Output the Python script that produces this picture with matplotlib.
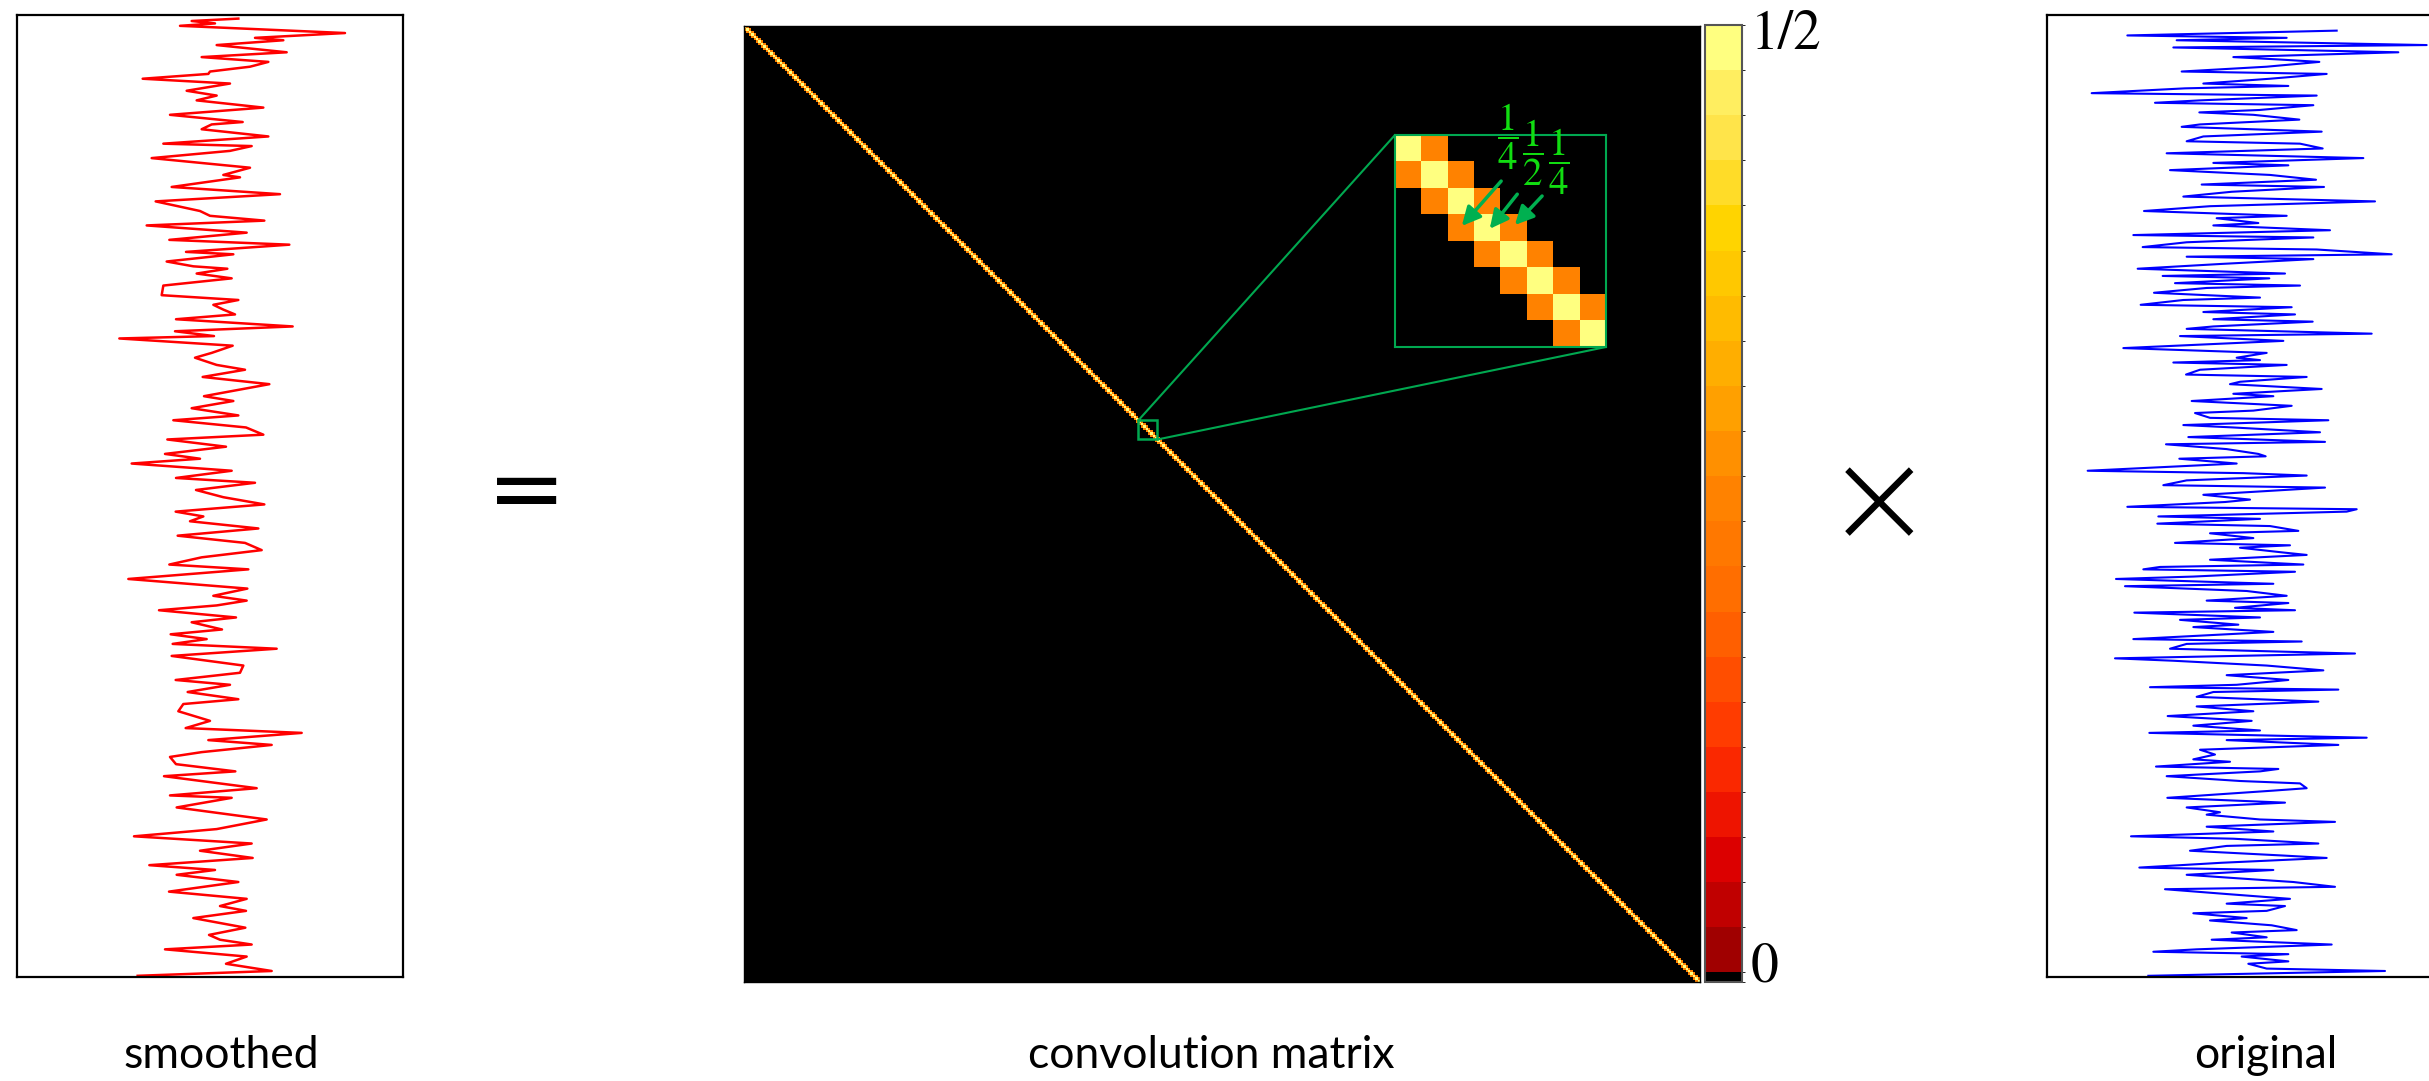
import numpy as np
import matplotlib
matplotlib.use("Agg")
import matplotlib.pyplot as plt
from matplotlib.colors import ListedColormap, BoundaryNorm
from matplotlib.patches import Rectangle, ConnectionPatch, FancyArrowPatch
from matplotlib import cm

plt.rcParams['mathtext.fontset'] = 'stix'

# smoothing kernel on the three central diagonals
kernel = [0.25, 0.5, 0.25]
n_samples = 400

# smoothed signal (sample index, amplitude)
smooth_idx = [1, 2, 3, 4, 7, 9, 10, 12, 15, 17,
              19, 21, 23, 24, 26, 28, 31, 33, 35, 38,
              41, 44, 45, 47, 50, 53, 54, 56, 59, 63,
              66, 67, 71, 74, 77, 81, 83, 85, 87, 90,
              93, 95, 98, 99, 102, 104, 105, 107, 109, 112,
              116, 118, 120, 122, 124, 126, 129, 131, 133, 134,
              137, 140, 142, 145, 147, 150, 153, 158, 160, 163,
              166, 168, 171, 174, 176, 179, 182, 184, 186, 189,
              192, 194, 197, 200, 203, 206, 208, 210, 213, 216,
              219, 222, 225, 228, 230, 234, 238, 241, 243, 245,
              247, 250, 252, 255, 257, 259, 261, 263, 266, 270,
              273, 276, 278, 281, 284, 286, 289, 293, 296, 298,
              301, 303, 306, 308, 311, 314, 316, 321, 324, 325,
              329, 334, 338, 341, 344, 347, 350, 353, 355, 357,
              360, 364, 367, 370, 372, 375, 379, 382, 384, 386,
              388, 391, 394, 397, 399]
smooth_val = [0.85, -0.55, 0.15, -0.90, 4.05, 1.35, 2.20, 0.20, 2.30, -0.25,
              1.75, 1.20, 0.00, -0.05, -2.02, 0.60, -0.70, 0.20, -0.40, 1.60,
              -1.20, 0.98, 0.05, -0.25, 1.75, -1.40, 1.25, 0.60, -1.75, 1.20,
              0.40, 0.90, -1.15, 2.10, -1.63, -0.30, 0.00, 1.63, -1.90, 1.10,
              -1.22, 2.38, -0.72, 0.70, -1.30, -0.50, 0.52, -0.40, 0.65, -1.40,
              -1.45, 0.85, 0.10, 0.40, 0.75, -1.02, 2.48, -1.05, 0.12, -2.72,
              0.68, 0.05, -0.45, 0.20, 1.05, -0.22, 1.78, -0.18, 0.70, -0.55,
              0.85, -1.10, 1.08, 1.60, -1.28, 0.48, -1.35, -0.30, -2.35, 0.65,
              -1.02, 1.35, -0.42, 0.40, 1.63, -1.03, -0.20, -0.60, 1.45, -0.97,
              1.05, 1.55, -0.25, -1.22, 1.15, -2.45, 1.12, 0.10, 1.10, 0.20,
              -1.53, 0.78, -0.55, 0.36, -1.18, -0.10, -1.12, 2.00, -1.15, 1.00,
              0.90, -1.03, 0.60, -0.67, 0.85, -0.80, -0.95, 0.00, -0.73, 2.75,
              -0.05, 1.85, -0.25, -1.20, -1.02, 0.76, -1.38, 1.40, -1.20, 0.65,
              -1.00, 1.70, 0.20, -2.28, 1.25, -0.30, 1.28, -1.82, 0.15, -1.00,
              0.85, -1.23, 1.10, 0.30, 1.08, -0.50, 1.06, -0.03, 0.30, 1.25,
              -1.35, 1.10, 0.48, 1.85, -2.17]

# original signal (sample index, amplitude)
orig_idx = [6, 8, 9, 10, 12, 13, 15, 17, 18, 19,
            21, 23, 24, 26, 28, 29, 30, 32, 33, 35,
            36, 37, 39, 40, 41, 43, 45, 46, 48, 50,
            52, 53, 55, 57, 59, 61, 62, 64, 66, 68,
            70, 71, 73, 75, 77, 79, 81, 83, 84, 86,
            87, 89, 91, 92, 94, 96, 97, 99, 100, 101,
            103, 105, 107, 108, 109, 111, 112, 113, 115, 117,
            118, 120, 121, 123, 124, 126, 127, 129, 130, 132,
            133, 135, 138, 140, 142, 143, 144, 145, 147, 149,
            150, 152, 153, 155, 157, 158, 160, 162, 164, 165,
            167, 168, 170, 171, 173, 175, 177, 178, 180, 182,
            183, 184, 186, 189, 190, 191, 193, 195, 196, 199,
            201, 202, 204, 205, 206, 208, 209, 211, 212, 214,
            215, 217, 219, 220, 221, 223, 224, 226, 228, 229,
            230, 231, 233, 234, 236, 237, 239, 241, 243, 244,
            246, 247, 248, 250, 251, 253, 254, 256, 259, 260,
            261, 263, 265, 267, 268, 270, 272, 274, 276, 278,
            279, 280, 281, 283, 285, 287, 289, 291, 293, 295,
            297, 298, 300, 301, 303, 305, 307, 309, 310, 312,
            313, 314, 316, 318, 319, 321, 322, 325, 327, 329,
            331, 332, 334, 335, 337, 339, 341, 342, 344, 345,
            347, 349, 350, 352, 354, 355, 357, 359, 360, 362,
            363, 365, 367, 369, 370, 372, 373, 375, 376, 378,
            380, 381, 383, 384, 386, 388, 389, 390, 391, 393,
            394, 396, 397, 399]
orig_val = [2.90, -3.38, 1.40, -1.90, 5.60, -2.00, 4.75, -0.20, 1.18, 2.38,
            0.80, -1.75, 2.60, 0.90, -1.10, 1.45, -1.65, -4.45, 2.30, -1.20,
            -2.55, 2.20, 0.58, -1.22, 0.40, 1.78, -1.20, -1.75, 2.45, -1.10,
            -1.60, 1.80, 2.48, -2.20, 3.70, -0.80, 1.45, -2.10, 0.90, 2.28,
            -1.15, 2.52, -0.25, -1.70, 4.05, -0.90, -2.88, 1.40, -0.70, 0.55,
            -0.80, 2.70, -3.20, 2.20, -1.60, -2.92, 2.30, 4.55, -1.60, 2.20,
            -0.55, -3.07, 1.35, -2.32, 0.88, -1.95, 1.80, -1.00, -2.58, 0.60,
            -1.70, -2.98, 1.55, -1.10, 1.65, -0.80, 2.18, -0.80, -1.60, 3.95,
            -1.80, 1.30, -3.50, 0.80, -0.10, 0.60, -2.00, 1.40, -1.20, -1.62,
            2.00, 0.00, -0.30, 2.45, -0.20, 1.00, -1.45, 1.55, 0.40, -1.35,
            -0.90, 2.65, -1.70, -0.20, 2.40, -1.55, 2.55, -2.22, -0.40, 0.55,
            0.77, -1.82, -0.10, -4.57, 0.10, 2.00, -1.60, -2.30, 2.55, -1.10,
            0.30, -0.45, -3.38, 3.50, 3.20, -2.45, 0.60, -2.48, 0.90, 1.75,
            -0.90, 0.40, -1.95, 1.50, 0.00, 1.30, 2.00, -0.90, 1.90, -2.40,
            -2.90, 1.65, -1.40, -3.72, 1.00, -3.45, 0.20, 1.40, -1.00, 1.45,
            -0.15, 1.65, -3.17, 0.60, -1.80, -0.05, -1.40, 1.00, -3.20, 1.85,
            -1.60, -2.10, 3.45, -3.75, -2.00, 0.80, 2.50, -0.40, 1.45, -0.10,
            -2.70, 2.95, -0.80, -1.30, 2.35, -1.30, 0.40, -2.17, 0.35, -1.40,
            0.60, -2.72, 3.80, -0.40, 2.95, -1.20, -0.75, -1.40, -0.30, -2.52,
            1.15, 0.60, -2.20, 0.00, 1.80, 2.00, 1.00, -2.18, 1.35, -1.60,
            -0.60, -1.00, 0.60, 2.85, -1.00, 1.00, -3.27, -0.20, 2.35, -0.40,
            -1.50, 1.30, 2.60, -0.55, -3.02, 1.00, -1.60, 0.50, 1.60, 2.85,
            -2.25, -0.40, 1.50, -0.40, 1.35, 0.80, -1.40, 0.20, -0.90, 0.95,
            1.70, -0.25, 0.80, -0.85, 2.75, -1.30, -2.60, 1.45, 0.05, 1.45,
            0.25, 0.80, 4.35, -2.75]

# zoomed block on the diagonal
zoom_start = 165
zoom_size = 8

# colour levels, 0 up to 1/2
cbar_colors = ['#000000', '#a00000', '#c00000', '#dc0000', '#ee1400', '#fa2800',
               '#ff3c00', '#ff4e00', '#ff5f00', '#ff6e00', '#ff7800', '#ff8200',
               '#ff9000', '#ffa000', '#ffae00', '#ffbb00', '#ffc800', '#ffd400',
               '#ffdc28', '#ffe44a', '#ffee60', '#ffff80']
cbar_bounds = np.concatenate([[0.0], np.linspace(0.005, 0.5, len(cbar_colors))])

W, H = 2429, 1081
fig = plt.figure(figsize=(W / 100, H / 100), dpi=100)


def px_box(x0, y0, x1, y1):
    return [x0 / W, 1 - y1 / H, (x1 - x0) / W, (y1 - y0) / H]


def fp(x, y):
    return (x / W, 1 - y / H)


# convolution matrix
mat = np.zeros((n_samples, n_samples))
for k, w in zip([-1, 0, 1], kernel):
    mat += w * np.eye(n_samples, k=k)

cmap = ListedColormap(cbar_colors)
cmap.set_over(cbar_colors[-1])
norm = BoundaryNorm(cbar_bounds, len(cbar_colors))

green_line = '#00a850'
green_text = '#11dd11'
green_arrow = '#00b050'

# smoothed signal panel
ax_s = fig.add_axes(px_box(17, 15, 403, 977))
ax_s.plot(smooth_val, smooth_idx, color='red', lw=1.8)
ax_s.set_xlim(-5.79, 5.79)
ax_s.set_ylim(399.5, -0.5)

# original signal panel
ax_o = fig.add_axes(px_box(2047, 15, 2433, 977))
ax_o.plot(orig_val, orig_idx, color='blue', lw=1.5)
ax_o.set_xlim(-5.79, 5.79)
ax_o.set_ylim(399.5, -0.5)

for ax in (ax_s, ax_o):
    ax.set_xticks([])
    ax.set_yticks([])
    for sp in ax.spines.values():
        sp.set_linewidth(1.6)

# main matrix
ax_m = fig.add_axes(px_box(744, 26, 1700, 982))
ax_m.imshow(mat, cmap=cmap, norm=norm, aspect='auto', interpolation='nearest')
ax_m.set_xticks([])
ax_m.set_yticks([])
for sp in ax_m.spines.values():
    sp.set_linewidth(1.0)
ax_m.add_patch(Rectangle((zoom_start - 0.5, zoom_start - 0.5), zoom_size, zoom_size,
                         fill=False, ec=green_line, lw=1.8))

# colour bar
cax = fig.add_axes(px_box(1705, 25, 1742, 982))
cb = fig.colorbar(cm.ScalarMappable(norm=norm, cmap=cmap), cax=cax,
                  spacing='proportional')
cb.outline.set_edgecolor('#555555')
cb.outline.set_linewidth(1.5)
cax.set_yticks([])
fig.text(*fp(1751, 36), '1/2', family='STIXGeneral', fontsize=40, va='center', ha='left')
fig.text(*fp(1751, 968), '0', family='STIXGeneral', fontsize=40, va='center', ha='left')

# magnified block
ax_in = fig.add_axes(px_box(1395, 135, 1606, 347))
block = mat[zoom_start:zoom_start + zoom_size, zoom_start:zoom_start + zoom_size]
ax_in.imshow(block, cmap=cmap, norm=norm, aspect='auto', interpolation='nearest')
ax_in.set_xticks([])
ax_in.set_yticks([])
for sp in ax_in.spines.values():
    sp.set_edgecolor(green_line)
    sp.set_linewidth(1.5)

lo = zoom_start - 0.5
hi = zoom_start + zoom_size - 0.5
for a, b in [((lo, lo), (-0.5, -0.5)), ((hi, hi), (zoom_size - 0.5, zoom_size - 0.5))]:
    con = ConnectionPatch(xyA=a, coordsA=ax_m.transData, xyB=b, coordsB=ax_in.transData,
                          color=green_line, lw=1.5)
    fig.add_artist(con)

# weights of the kernel with arrows to their cells
frac_labels = [r'$\dfrac{1}{4}$', r'$\dfrac{1}{2}$', r'$\dfrac{1}{4}$']
frac_pos = [(1508, 137), (1533, 153), (1559, 162)]
arrow_tail = [(1503, 179), (1519, 192), (1544, 194)]
arrow_tip = [(1460, 228), (1488, 231), (1513, 227)]
for lab, pos, t0, t1 in zip(frac_labels, frac_pos, arrow_tail, arrow_tip):
    fig.text(*fp(*pos), lab, color=green_text, fontsize=28, ha='center', va='center')
    fig.add_artist(FancyArrowPatch(
        fp(*t0), fp(*t1), transform=fig.transFigure, arrowstyle='-|>',
        mutation_scale=28, color=green_arrow, lw=2.5))

# operators
fig.text(*fp(527, 494), '=', fontsize=68, style='italic', ha='center', va='center')
fig.text(*fp(1879, 507), '\u00d7', fontsize=95, weight='light', ha='center', va='center')

# captions
for x, lab in [(221, 'smoothed'), (1211, 'convolution matrix'), (2266, 'original')]:
    fig.text(*fp(x, 1068), lab, family='Lato', fontsize=32, ha='center', va='baseline')

fig.savefig('out.png', dpi=100)
